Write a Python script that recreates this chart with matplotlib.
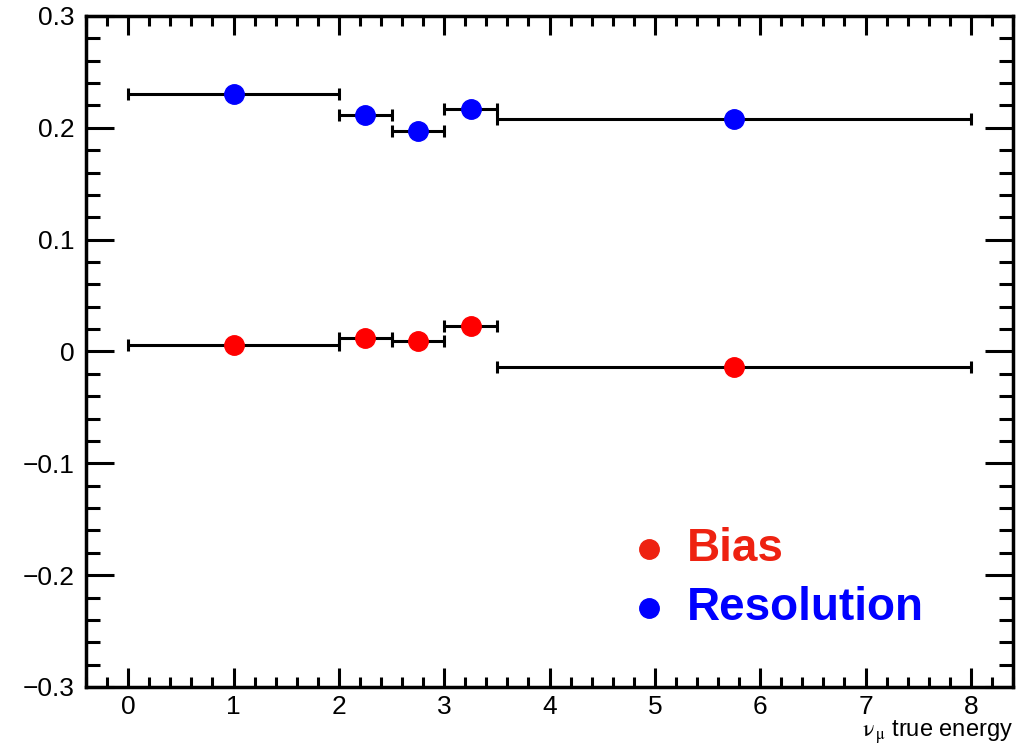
import numpy as np
import matplotlib.pyplot as plt
from matplotlib.ticker import MultipleLocator

# Bins de energia verdadeira do neutrino
bin_lo = [0.0, 2.0, 2.5, 3.0, 3.5]
bin_hi = [2.0, 2.5, 3.0, 3.5, 8.0]
bin_centro = [1.0, 2.25, 2.75, 3.25, 5.75]

# Valores por bin
bias = [0.006, 0.012, 0.009, 0.023, -0.0135]
resolucao = [0.230, 0.2115, 0.197, 0.2165, 0.208]

y_ticks = [-0.3, -0.2, -0.1, 0.0, 0.1, 0.2, 0.3]
y_labels = ['\u22120.3', '\u22120.2', '\u22120.1', '0', '0.1', '0.2', '0.3']
x_ticks = [0, 1, 2, 3, 4, 5, 6, 7, 8]

plt.rcParams['font.family'] = ['Liberation Sans', 'DejaVu Sans']
plt.rcParams['mathtext.fontset'] = 'stix'

fig = plt.figure(figsize=(10.23, 7.46), dpi=100)
ax = fig.add_axes([0.0841, 0.0791, 0.9061, 0.8995])

centro = np.array(bin_centro)
xerr = [centro - np.array(bin_lo), np.array(bin_hi) - centro]

for valores, cor in [(resolucao, '#0000ff'), (bias, '#ff0000')]:
    ax.errorbar(centro, valores, xerr=xerr, fmt='none', ecolor='black',
                elinewidth=2.2, capsize=4.5, capthick=2.2, zorder=2)
    ax.plot(centro, valores, 'o', color=cor, markersize=14, zorder=3)

ax.set_xlim(-0.4, 8.4)
ax.set_ylim(-0.3, 0.3)

ax.set_xticks(x_ticks)
ax.set_yticks(y_ticks)
ax.set_yticklabels(y_labels)
ax.xaxis.set_minor_locator(MultipleLocator(0.2))
ax.yaxis.set_minor_locator(MultipleLocator(0.02))

ax.tick_params(axis='both', which='both', direction='in',
               top=True, right=True, width=2.2, labelsize=19)
ax.tick_params(axis='x', which='major', length=14, pad=6)
ax.tick_params(axis='x', which='minor', length=7)
ax.tick_params(axis='y', which='major', length=20, pad=8)
ax.tick_params(axis='y', which='minor', length=10)
for lado in ax.spines.values():
    lado.set_linewidth(2.5)

ax.set_xlabel(r'$\mathrm{\nu_{\,\mu}}$ true energy', fontsize=17, loc='right', labelpad=-1)

# Legenda manual
ax.plot([0.607], [0.205], 'o', color='#ee2211', markersize=14, transform=ax.transAxes, clip_on=False)
ax.plot([0.607], [0.118], 'o', color='#0000ff', markersize=14, transform=ax.transAxes, clip_on=False)
ax.text(0.648, 0.205, 'Bias', color='#ee2211', fontsize=33, fontweight='bold',
        transform=ax.transAxes, va='center')
ax.text(0.648, 0.118, 'Resolution', color='#0000ff', fontsize=33, fontweight='bold',
        transform=ax.transAxes, va='center')

fig.savefig('out.png', dpi=100)
